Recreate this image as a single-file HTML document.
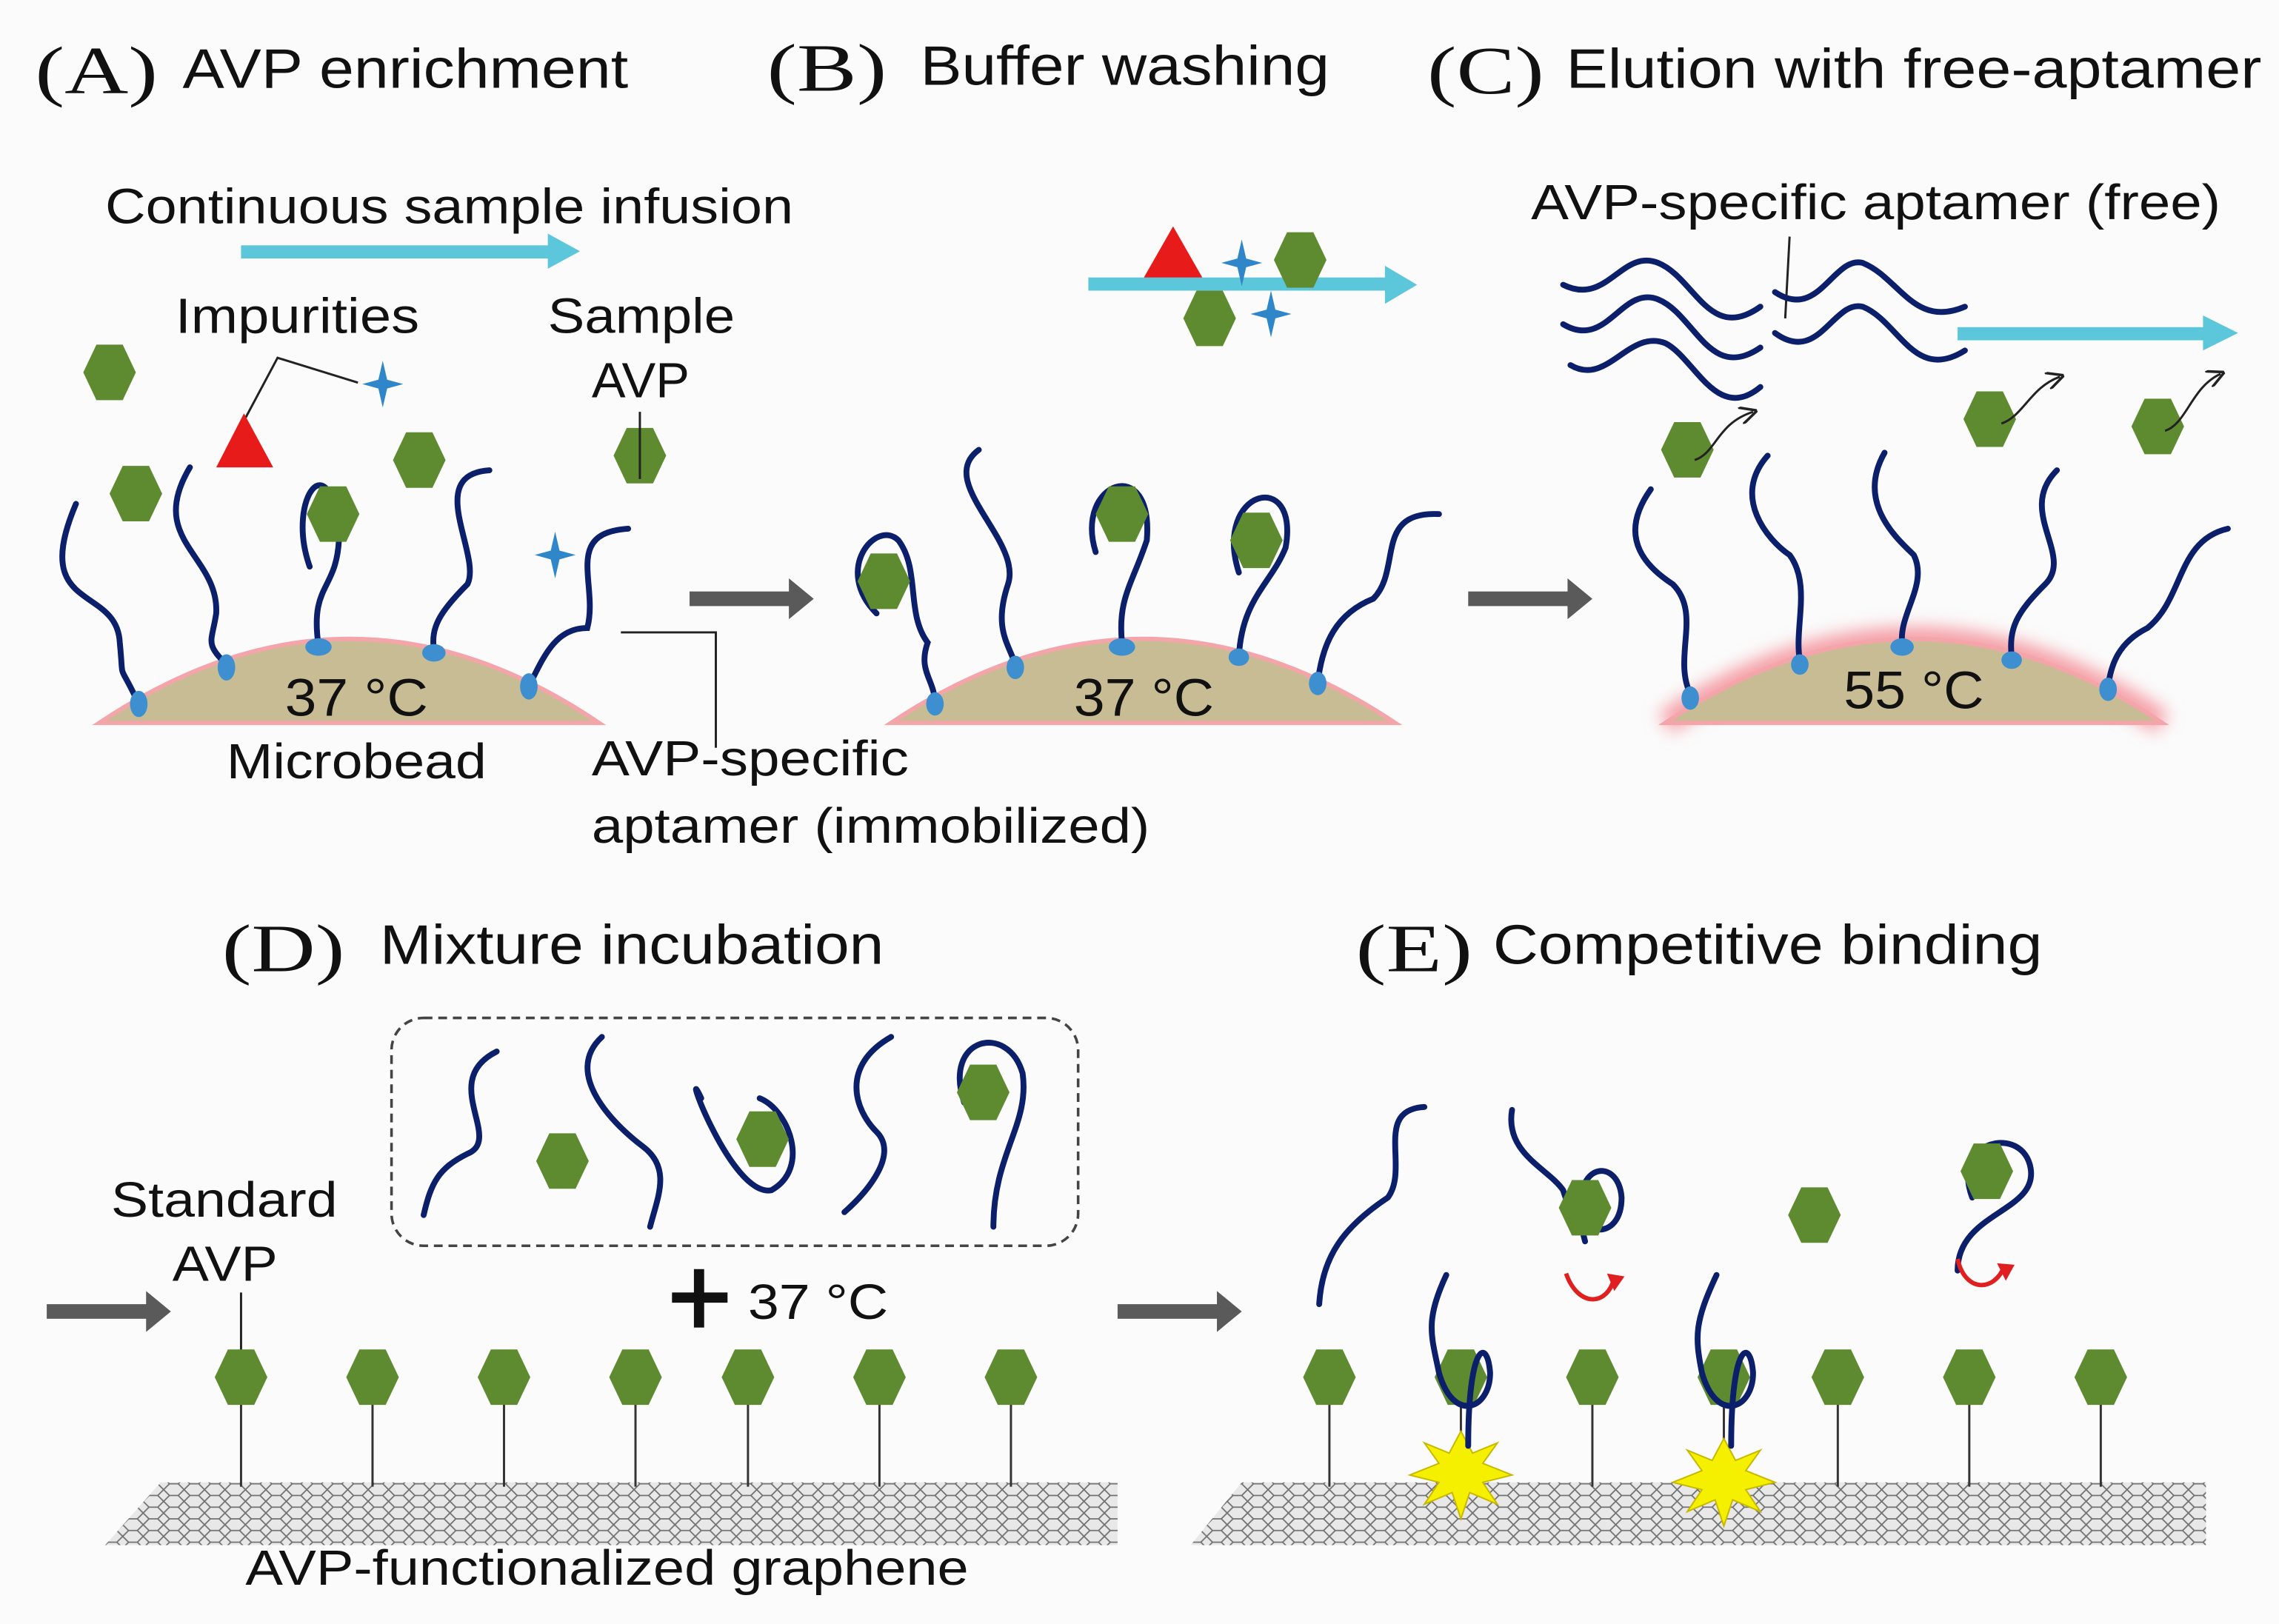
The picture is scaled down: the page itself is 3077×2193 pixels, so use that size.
<!DOCTYPE html>
<html><head><meta charset="utf-8"><style>
html,body{margin:0;padding:0;background:#fff;}
svg{display:block;}
text{font-family:"Liberation Sans",sans-serif;fill:#111;}
.s{font-family:"Liberation Serif",serif;}
.ap{fill:none;stroke:#0c1f6b;stroke-width:4;stroke-linecap:round;}
.ld{fill:none;stroke:#222;stroke-width:1.5;}
.st{stroke:#333;stroke-width:1.5;}
</style></head><body>
<svg width="3077" height="2193" viewBox="0 0 1560 1112" preserveAspectRatio="none" xmlns="http://www.w3.org/2000/svg">
<defs>
<polygon id="hx" points="-9,-19 9,-19 18,0 9,19 -9,19 -18,0" fill="#5f8b30"/>
<g id="ga"><rect x="-40" y="-5" width="70" height="10" fill="#5a5a5a"/><polygon points="28,-14 45,0 28,14" fill="#5a5a5a"/></g>
<g id="sr"><polygon points="0,-16 3,-3 14,0 3,3 0,16 -3,3 -14,0 -3,-3" fill="#2f86c8"/></g>
<pattern id="mesh" width="14" height="8" patternUnits="userSpaceOnUse"><rect width="14" height="8" fill="#e8e8e8"/><path d="M0,4 L4,0 L10,0 L14,4 L10,8 L4,8 Z" fill="none" stroke="#707070" stroke-width="0.9"/></pattern>
<filter id="bl" x="-20%" y="-50%" width="140%" height="200%"><feGaussianBlur stdDeviation="6"/></filter>
<marker id="ah" markerWidth="8" markerHeight="8" refX="6" refY="4" orient="auto"><path d="M0,0 L8,4 L0,8" fill="none" stroke="#222" stroke-width="1.2"/></marker>
</defs>
<rect width="1560" height="1112" fill="#fbfbfb"/>

<!-- Titles -->
<text class="s" x="24" y="64" font-size="46" textLength="84" lengthAdjust="spacingAndGlyphs">(A)</text><text x="125" y="60" font-size="38" textLength="305" lengthAdjust="spacingAndGlyphs">AVP enrichment</text>
<text class="s" x="525" y="62" font-size="46" textLength="82" lengthAdjust="spacingAndGlyphs">(B)</text><text x="630" y="58" font-size="38" textLength="280" lengthAdjust="spacingAndGlyphs">Buffer washing</text>
<text class="s" x="977" y="64" font-size="46" textLength="80" lengthAdjust="spacingAndGlyphs">(C)</text><text x="1072" y="60" font-size="38" textLength="476" lengthAdjust="spacingAndGlyphs">Elution with free-aptamer</text>
<text class="s" x="152" y="665" font-size="46" textLength="84" lengthAdjust="spacingAndGlyphs">(D)</text><text x="260" y="660" font-size="38" textLength="345" lengthAdjust="spacingAndGlyphs">Mixture incubation</text>
<text class="s" x="928" y="665" font-size="46" textLength="80" lengthAdjust="spacingAndGlyphs">(E)</text><text x="1022" y="660" font-size="38" textLength="376" lengthAdjust="spacingAndGlyphs">Competitive binding</text>

<!-- Panel A -->
<text x="72" y="153" font-size="34" textLength="471" lengthAdjust="spacingAndGlyphs">Continuous sample infusion</text>
<rect x="165" y="168" width="212" height="9" fill="#5cc6db"/><polygon points="375,160 397,172 375,184" fill="#5cc6db"/>
<text x="120" y="228" font-size="34" textLength="167" lengthAdjust="spacingAndGlyphs">Impurities</text>
<text x="375" y="228" font-size="34" textLength="128" lengthAdjust="spacingAndGlyphs">Sample</text><text x="405" y="272" font-size="34" textLength="67" lengthAdjust="spacingAndGlyphs">AVP</text>
<path class="ld" d="M158,305 L190,245 L245,262"/>
<polygon points="167,283 148,320 187,320" fill="#e81b1b"/>
<use href="#sr" x="262" y="263"/><use href="#sr" x="380" y="380"/>
<use href="#hx" x="75" y="255"/><use href="#hx" x="93" y="338"/><use href="#hx" x="287" y="315"/><use href="#hx" x="438" y="312"/>
<line class="ld" x1="438" y1="282" x2="438" y2="328"/>
<path d="M68,495 Q240,380 410,495 Z" fill="#c8bc94" stroke="#f3a5aa" stroke-width="3"/>
<text x="195" y="490" font-size="36" textLength="98" lengthAdjust="spacingAndGlyphs">37 °C</text>
<text x="155" y="533" font-size="34" textLength="178" lengthAdjust="spacingAndGlyphs">Microbead</text>
<text x="405" y="531" font-size="34" textLength="217" lengthAdjust="spacingAndGlyphs">AVP-specific</text><text x="405" y="577" font-size="34" textLength="382" lengthAdjust="spacingAndGlyphs">aptamer (immobilized)</text>
<path class="ld" d="M425,433 L490,433 L490,512"/>
<path class="ap" d="M52,345 C20,420 80,400 82,440 C85,470 80,450 95,482"/>
<path class="ap" d="M130,320 C100,370 150,380 148,420 C145,440 140,440 155,455"/>
<path class="ap" d="M212,388 C195,340 228,300 232,370 C230,405 212,400 218,442"/>
<path class="ap" d="M335,322 C290,325 330,380 320,400 C300,420 295,430 297,445"/>
<path class="ap" d="M430,362 C385,365 410,400 402,430 C380,430 372,450 362,470"/>
<use href="#hx" x="228" y="352"/>
<g fill="#3e8fd0"><ellipse cx="95" cy="482" rx="6" ry="9"/><ellipse cx="155" cy="457" rx="6" ry="9"/><ellipse cx="218" cy="443" rx="9" ry="6"/><ellipse cx="297" cy="447" rx="8" ry="6"/><ellipse cx="362" cy="470" rx="6" ry="9"/></g>
<use href="#ga" x="512" y="410"/>

<!-- Panel B -->
<rect x="745" y="190" width="205" height="9" fill="#5cc6db"/><polygon points="948,182 970,195 948,208" fill="#5cc6db"/>
<polygon points="803,155 783,190 823,190" fill="#e81b1b"/>
<use href="#sr" x="850" y="180"/><use href="#sr" x="870" y="215"/>
<use href="#hx" x="890" y="178"/><use href="#hx" x="828" y="218"/>
<path d="M610,495 Q782,380 955,495 Z" fill="#c8bc94" stroke="#f3a5aa" stroke-width="3"/>
<text x="735" y="490" font-size="36" textLength="96" lengthAdjust="spacingAndGlyphs">37 °C</text>
<path class="ap" d="M600,420 C570,390 600,355 615,370 C630,390 620,420 635,440 C628,460 640,465 640,482"/>
<use href="#hx" x="605" y="398"/>
<path class="ap" d="M670,308 C640,330 700,370 690,400 C680,430 690,440 695,455"/>
<path class="ap" d="M750,378 C735,330 790,310 785,370 C775,400 765,410 768,440"/>
<use href="#hx" x="768" y="352"/>
<path class="ap" d="M848,392 C830,335 890,320 880,375 C870,400 850,410 848,450"/>
<use href="#hx" x="860" y="370"/>
<path class="ap" d="M985,352 C940,350 960,390 940,410 C915,420 905,440 902,468"/>
<g fill="#3e8fd0"><ellipse cx="640" cy="482" rx="6" ry="8"/><ellipse cx="695" cy="457" rx="6" ry="8"/><ellipse cx="768" cy="443" rx="9" ry="6"/><ellipse cx="848" cy="450" rx="7" ry="6"/><ellipse cx="902" cy="468" rx="6" ry="8"/></g>
<use href="#ga" x="1045" y="410"/>

<!-- Panel C -->
<text x="1048" y="150" font-size="34" textLength="472" lengthAdjust="spacingAndGlyphs">AVP-specific aptamer (free)</text>
<line class="ld" x1="1225" y1="162" x2="1222" y2="218"/>
<path class="ap" d="M1070,195 C1100,210 1110,170 1135,180 C1160,190 1170,235 1205,210"/>
<path class="ap" d="M1070,222 C1100,240 1110,195 1135,205 C1160,215 1170,262 1205,238"/>
<path class="ap" d="M1075,250 C1100,265 1115,225 1140,235 C1160,245 1175,290 1205,265"/>
<path class="ap" d="M1215,200 C1245,220 1255,175 1275,180 C1300,190 1310,225 1345,210"/>
<path class="ap" d="M1215,228 C1245,250 1255,205 1275,210 C1300,220 1310,262 1345,240"/>
<rect x="1340" y="224" width="170" height="9" fill="#5cc6db"/><polygon points="1508,216 1532,228 1508,240" fill="#5cc6db"/>
<path d="M1140,495 Q1310,380 1480,495" fill="none" stroke="#f49aa2" stroke-width="16" filter="url(#bl)"/>
<path d="M1140,495 Q1310,380 1480,495 Z" fill="#c8bc94" stroke="#f3a5aa" stroke-width="3"/>
<text x="1262" y="485" font-size="36" textLength="96" lengthAdjust="spacingAndGlyphs">55 °C</text>
<use href="#hx" x="1155" y="308"/><use href="#hx" x="1362" y="287"/><use href="#hx" x="1477" y="292"/>
<g class="ld"><path d="M1160,315 C1175,310 1175,290 1200,282" marker-end="url(#ah)"/><path d="M1370,290 C1385,285 1390,265 1410,258" marker-end="url(#ah)"/><path d="M1482,295 C1497,290 1500,265 1520,256" marker-end="url(#ah)"/></g>
<path class="ap" d="M1130,335 C1105,370 1130,390 1145,400 C1165,420 1145,450 1157,475"/>
<path class="ap" d="M1210,312 C1185,340 1210,370 1225,380 C1240,400 1228,430 1232,452"/>
<path class="ap" d="M1290,310 C1270,345 1300,370 1310,380 C1320,400 1300,420 1302,440"/>
<path class="ap" d="M1408,322 C1380,350 1420,380 1400,400 C1380,420 1375,430 1377,450"/>
<path class="ap" d="M1525,362 C1490,370 1495,410 1470,430 C1450,440 1445,455 1443,470"/>
<g fill="#3e8fd0"><ellipse cx="1157" cy="478" rx="6" ry="8"/><ellipse cx="1232" cy="455" rx="6" ry="7"/><ellipse cx="1302" cy="443" rx="8" ry="6"/><ellipse cx="1377" cy="452" rx="7" ry="6"/><ellipse cx="1443" cy="472" rx="6" ry="8"/></g>

<!-- Panel D -->
<rect x="268" y="697" width="470" height="156" rx="22" fill="none" stroke="#444" stroke-width="1.8" stroke-dasharray="6,4"/>
<path class="ap" d="M340,720 C300,740 345,780 320,790 C300,800 295,810 290,832"/>
<use href="#hx" x="385" y="795"/>
<path class="ap" d="M412,710 C385,735 420,770 440,785 C460,800 450,820 445,840"/>
<path class="ap" d="M480,752 C465,720 500,820 528,815 C555,800 540,760 520,752"/>
<use href="#hx" x="522" y="780"/>
<path class="ap" d="M610,710 C575,730 585,760 600,775 C615,790 595,815 578,830"/>
<path class="ap" d="M660,755 C645,710 690,700 700,735 C705,770 680,790 680,840"/>
<use href="#hx" x="673" y="748"/>
<text x="76" y="833" font-size="34" textLength="155" lengthAdjust="spacingAndGlyphs">Standard</text><text x="118" y="877" font-size="34" textLength="72" lengthAdjust="spacingAndGlyphs">AVP</text>
<line class="ld" x1="165" y1="885" x2="165" y2="925"/>
<use href="#ga" x="72" y="898"/>
<rect x="460" y="885" width="38" height="7" fill="#111"/><rect x="475" y="869" width="7" height="40" fill="#111"/>
<text x="512" y="903" font-size="34" textLength="96" lengthAdjust="spacingAndGlyphs">37 °C</text>
<polygon points="110,1015 765,1015 765,1058 72,1058" fill="url(#mesh)"/>
<g class="st"><line x1="165" y1="943" x2="165" y2="1018"/><line x1="255" y1="943" x2="255" y2="1018"/><line x1="345" y1="943" x2="345" y2="1018"/><line x1="435" y1="943" x2="435" y2="1018"/><line x1="512" y1="943" x2="512" y2="1018"/><line x1="602" y1="943" x2="602" y2="1018"/><line x1="692" y1="943" x2="692" y2="1018"/></g>
<use href="#hx" x="165" y="943"/><use href="#hx" x="255" y="943"/><use href="#hx" x="345" y="943"/><use href="#hx" x="435" y="943"/><use href="#hx" x="512" y="943"/><use href="#hx" x="602" y="943"/><use href="#hx" x="692" y="943"/>
<text x="168" y="1085" font-size="34" textLength="495" lengthAdjust="spacingAndGlyphs">AVP-functionalized graphene</text>
<use href="#ga" x="805" y="898"/>

<!-- Panel E -->
<polygon points="850,1015 1510,1015 1510,1058 815,1058" fill="url(#mesh)"/>
<g class="st"><line x1="910" y1="943" x2="910" y2="1018"/><line x1="1090" y1="943" x2="1090" y2="1018"/><line x1="1258" y1="943" x2="1258" y2="1018"/><line x1="1348" y1="943" x2="1348" y2="1018"/><line x1="1438" y1="943" x2="1438" y2="1018"/><line x1="1000" y1="960" x2="1000" y2="1005"/><line x1="1180" y1="960" x2="1180" y2="1005"/></g>
<polygon points="1000,980 1008,995 1025,988 1015,1002 1035,1010 1015,1015 1025,1030 1006,1022 1000,1040 994,1022 975,1030 985,1015 965,1010 985,1002 975,988 992,995" fill="#f5f000" stroke="#c8b800"/>
<polygon points="1180,985 1188,1000 1205,993 1195,1007 1215,1015 1195,1020 1205,1035 1186,1027 1180,1045 1174,1027 1155,1035 1165,1020 1145,1015 1165,1007 1155,993 1172,1000" fill="#f5f000" stroke="#c8b800"/>
<use href="#hx" x="910" y="943"/><use href="#hx" x="1000" y="943"/><use href="#hx" x="1090" y="943"/><use href="#hx" x="1180" y="943"/><use href="#hx" x="1258" y="943"/><use href="#hx" x="1348" y="943"/><use href="#hx" x="1438" y="943"/>
<path class="ap" d="M990,873 C975,905 980,915 985,940 C995,975 1020,965 1020,940 C1018,915 1005,920 1005,990"/>
<path class="ap" d="M1175,873 C1160,905 1160,915 1165,940 C1175,975 1200,965 1200,940 C1198,915 1185,920 1185,990"/>
<path class="ap" d="M975,758 C940,760 965,800 950,820 C920,840 905,860 903,893"/>
<path class="ap" d="M1035,760 C1030,790 1060,800 1070,815 C1080,850 1110,850 1110,820 C1108,790 1070,795 1085,850"/>
<use href="#hx" x="1085" y="827"/>
<use href="#hx" x="1242" y="832"/>
<path class="ap" d="M1350,820 C1335,780 1385,770 1390,800 C1395,830 1340,830 1340,870"/>
<use href="#hx" x="1360" y="802"/>
<g fill="none" stroke="#e02020" stroke-width="3"><path d="M1072,872 C1080,895 1100,895 1105,875"/><path d="M1340,862 C1345,885 1365,885 1372,867"/></g>
<polygon points="1100,872 1112,874 1105,884" fill="#e02020"/><polygon points="1367,865 1379,866 1373,877" fill="#e02020"/>
</svg>
</body></html>
